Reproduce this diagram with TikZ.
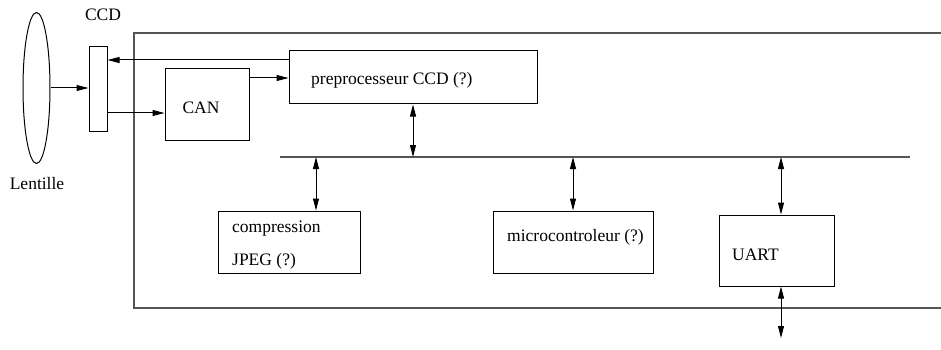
\documentclass[tikz,border=0pt]{standalone}
\usepackage{fontspec}
\setmainfont{Liberation Serif}
\usepackage{tikz}
\usetikzlibrary{positioning,arrows.meta,shapes.geometric}
\definecolor{FrameGray}{RGB}{85,85,85}

\begin{document}
\begin{tikzpicture}[x=1pt, y=-1pt, font=\fontsize{17.5}{33}\selectfont, >={Triangle[length=12pt, width=6pt]}]
      \tikzset{
        box/.style={draw, line width=1pt, rectangle, inner sep=0pt},
        lens/.style={draw, line width=1pt, ellipse, inner sep=0pt, minimum width=27pt, minimum height=151pt},
        label/.style={inner sep=0pt, align=left},
        arrow/.style={->, line width=1pt},
        dblarrow/.style={<->, line width=1pt},
        bus/.style={draw=FrameGray, line width=1.2pt}
      }
      \useasboundingbox (0,0) rectangle (941,350);

      % outer frame, open on the right
      \draw[bus] (941,33) -| (134,308) -- (941,308);

      \node[lens] (lentille) at (36.5,88) {};
      \node[box, minimum width=18pt, minimum height=84pt] (ccd) at (98,89) {};
      \node[box, minimum width=84pt, minimum height=71pt] (can) at (207,104.5) {};
      \node[box, minimum width=248pt, minimum height=53pt] (pre) at (413,77.5) {};
      \node[box, minimum width=142pt, minimum height=62pt] (comp) at (289,242) {};
      \node[box, minimum width=160pt, minimum height=62pt] (micro) at (573,242) {};
      \node[box, minimum width=115pt, minimum height=71pt] (uart) at (776.5,250.5) {};

      \node[label] (ccdtxt) at (103,15) {CCD};
      \node[label] (lenttxt) at (37,184) {Lentille};
      \node[label] (cantxt) at (201,108) {CAN};
      \node[label, anchor=west] (pretxt) at (311,80) {preprocesseur CCD (?)};
      \node[label, anchor=west] (comptxt) at (232,245) {compression\\JPEG (?)};
      \node[label, anchor=west] (microtxt) at (507,237) {microcontroleur (?)};
      \node[label, anchor=west] (uarttxt) at (732,255) {UART};

      % bus
      \coordinate (busL) at (280,157);
      \coordinate (busR) at (910,157);
      \draw[bus] (busL) -- (busR);
      \coordinate (out) at (781,338);

      \draw[arrow] (lentille.east) -- (lentille.east -| ccd.west);
      \draw[arrow] (ccd.east |- 0,113) -- (can.west |- 0,113);
      \draw[arrow] (can.east |- 0,78) -- (pre.west |- 0,78);
      \draw[arrow] (pre.west |- 0,60) -- (ccd.east |- 0,60);
      \draw[dblarrow] (pre.south) -- (pre.south |- busL);
      \draw[dblarrow] (busL -| 316,0) -- (comp.north -| 316,0);
      \draw[dblarrow] (micro.north |- busL) -- (micro.north);
      \draw[dblarrow] (busL -| out) -- (uart.north -| out);
      \draw[dblarrow] (uart.south -| out) -- (out);
    \end{tikzpicture}
\end{document}
